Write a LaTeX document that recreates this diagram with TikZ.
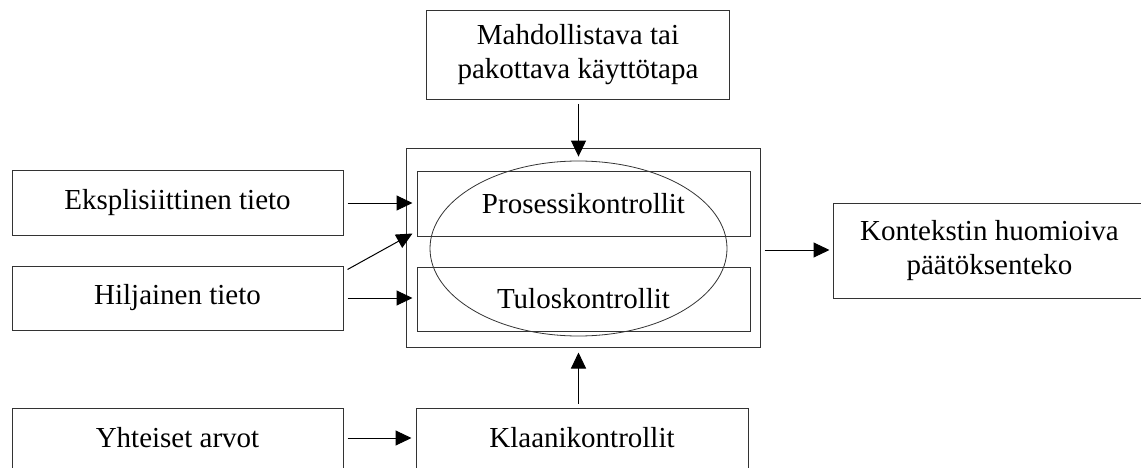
\documentclass[tikz,border=0pt]{standalone}
\usepackage{fontspec}
\setmainfont{Liberation Serif}
\usetikzlibrary{arrows.meta,calc,shapes.geometric}

\tikzset{
  box/.style={draw=black!80, line width=1pt, inner sep=0pt, align=center,
    font=\fontsize{29}{34}\selectfont},
  flow/.style={-{Triangle[length=16pt,width=15pt]}, line width=1pt,
    shorten <=4pt, shorten >=4pt}
}

\begin{document}
\begin{tikzpicture}[x=1pt, y=-1pt]
      \useasboundingbox (0,0) rectangle (1141,468);
      % boxes
      \node[box, minimum width=303pt, minimum height=89pt] (mode) at (578,55)
        {Mahdollistava tai\\pakottava käyttötapa};
      \node[box, minimum width=354pt, minimum height=198pt] (cont) at (583,248) {};
      \node[box, minimum width=333pt, minimum height=64pt] (proc) at (583.5,204) {Prosessikontrollit};
      \node[box, minimum width=333pt, minimum height=64pt] (tulos) at (583.5,299) {Tuloskontrollit};
      \node[draw=black!80, line width=0.8pt, ellipse, minimum width=297pt,
        minimum height=175pt, inner sep=0pt] (ell) at (578.5,248.5) {};
      \node[box, minimum width=331pt, minimum height=64pt] (eks) at (177.5,203) {Eksplisiittinen tieto};
      \node[box, minimum width=331pt, minimum height=64pt] (hil) at (177.5,298) {Hiljainen tieto};
      \node[box, minimum width=331pt, minimum height=60pt] (yht) at (177.5,438) {Yhteiset arvot};
      \node[box, minimum width=332pt, minimum height=60pt] (klaani) at (582,438) {Klaanikontrollit};
      \node[box, draw=none, minimum width=311pt, minimum height=94pt] (kont) at (989.5,251)
        {Kontekstin huomioiva\\päätöksenteko};
      % the right box runs off the page
      \draw[draw=black!80, line width=1pt] ($(kont.south west)+(0,0)$) rectangle ($(kont.north east)+(20,0)$);
      % arrows
      \draw[flow] (mode.south -| ell.north) -- (ell.north);
      \draw[flow] (eks.east) -- (eks.east -| proc.west);
      \draw[flow] (hil.east) -- (hil.east -| tulos.west);
      \draw[flow, shorten <=0pt, shorten >=0pt] ($(hil.north east)+(4,4)$) -- ($(proc.south west)+(-4,-3)$);
      \draw[flow, shorten >=5pt] (klaani.north -| ell.south) -- (cont.south -| ell.south);
      \draw[flow] (yht.east) -- (yht.east -| klaani.west);
      \draw[flow] ($(cont.east)+(0,2)$) -- ($(cont.east -| kont.west)+(0,2)$);
\end{tikzpicture}
\end{document}
